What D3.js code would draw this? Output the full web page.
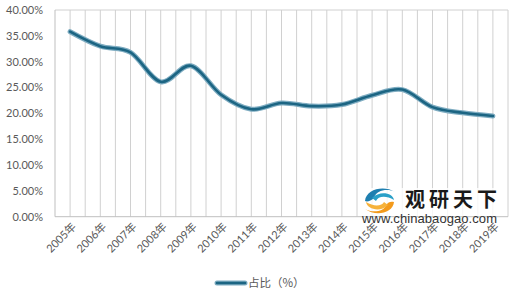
<!DOCTYPE html>
<html>
<head>
<meta charset="utf-8">
<script src="https://cdn.jsdelivr.net/npm/d3@7"></script>
<style>
  html, body { margin: 0; padding: 0; background: #fff; }
  svg { display: block; }
</style>
</head>
<body>
<div id="chart"></div>
<script>
// ── Data ──────────────────────────────────────────────────────
const years = ['2005年', '2006年', '2007年', '2008年', '2009年', '2010年', '2011年', '2012年',
               '2013年', '2014年', '2015年', '2016年', '2017年', '2018年', '2019年'];
const share = [35.8, 33.0, 31.8, 26.1, 29.2, 23.6, 20.8, 22.0,
               21.4, 21.7, 23.5, 24.6, 21.2, 20.1, 19.5];
const yTicks = [0, 5, 10, 15, 20, 25, 30, 35, 40];
const seriesName = '占比（%）';

// ── Layout ────────────────────────────────────────────────────
const W = 520, H = 299;
const M = { left: 55, right: 508, top: 10, bottom: 216.7 };
const FONT = 'Lato, "Noto Sans CJK SC", sans-serif';

const svg = d3.select('#chart').append('svg')
  .attr('width', W).attr('height', H);

const x = d3.scaleBand().domain(years).range([M.left, M.right]).padding(0);
const y = d3.scaleLinear().domain([0, 40]).range([M.bottom, M.top]);
const cx = d => x(d) + x.bandwidth() / 2;

// vertical gridlines: band edges and band centres
const gridX = [];
years.forEach((d, i) => {
  if (i > 0) gridX.push(x(d));
  gridX.push(cx(d));
});
svg.append('g').selectAll('line').data(gridX).join('line')
  .attr('x1', d => d).attr('x2', d => d)
  .attr('y1', M.top).attr('y2', M.bottom)
  .attr('stroke', '#d0d0d0').attr('stroke-width', 1);

// plot border (top + right) and axes
svg.append('path')
  .attr('d', `M${M.left},${M.top}H${M.right}V${M.bottom}`)
  .attr('fill', 'none').attr('stroke', '#d0d0d0').attr('stroke-width', 1);

svg.append('line')
  .attr('x1', M.left).attr('x2', M.left).attr('y1', M.top).attr('y2', M.bottom)
  .attr('stroke', '#bfbfbf');
svg.append('line')
  .attr('x1', M.left).attr('x2', M.right).attr('y1', M.bottom).attr('y2', M.bottom)
  .attr('stroke', '#bfbfbf');

// y tick labels
svg.append('g').selectAll('text').data(yTicks).join('text')
  .attr('x', 43).attr('y', d => y(d))
  .attr('dy', '0.35em')
  .attr('text-anchor', 'end')
  .attr('fill', '#595959')
  .attr('font-family', FONT)
  .attr('font-size', '11px')
  .text(d => d.toFixed(2) + '%');

// x tick labels (rotated)
svg.append('g').selectAll('text').data(years).join('text')
  .attr('transform', d => `translate(${cx(d) + 4},${M.bottom + 8}) rotate(-45)`)
  .attr('text-anchor', 'end')
  .attr('dy', '0.35em')
  .attr('fill', '#595959')
  .attr('font-family', FONT)
  .attr('font-size', '11px')
  .text(d => d);

// ── Watermark ─────────────────────────────────────────────────
const wm = svg.append('g');
wm.append('rect')
  .attr('x', 360).attr('y', 188).attr('width', 140).attr('height', 28)
  .attr('fill', '#fff').attr('opacity', 0.8);
// logo swirls
wm.append('path')
  .attr('d', 'M365,201 C366,189 384,185 395,192 C388,188 376,190 374,198 C371,201 367,202 365,201 Z')
  .attr('fill', '#1f7fb0');
wm.append('path')
  .attr('d', 'M372,198 C380,190 393,193 394,200 C386,195 378,196 376,201 Z')
  .attr('fill', '#2aa0c8');
wm.append('path')
  .attr('d', 'M394,202 C393,213 376,217 365,209 C372,213 384,212 386,205 C388,202 391,201 394,202 Z')
  .attr('fill', '#f39a1c');
wm.append('path')
  .attr('d', 'M388,205 C380,213 367,209 366,202 C374,207 382,206 384,202 Z')
  .attr('fill', '#f6b23b');
wm.append('text')
  .attr('x', 405).attr('y', 207)
  .attr('font-family', '"Noto Sans CJK SC", sans-serif')
  .attr('font-weight', 'bold')
  .attr('font-size', '20px')
  .attr('fill', '#1a1a1a')
  .attr('textLength', 92)
  .text('观研天下');
wm.append('text')
  .attr('x', 362).attr('y', 223)
  .attr('font-family', '"Liberation Sans", Arial, sans-serif')
  .attr('font-size', '13px')
  .attr('fill', '#333')
  .attr('textLength', 135)
  .text('www.chinabaogao.com');

// ── Line ──────────────────────────────────────────────────────
const line = d3.line()
  .x((d, i) => cx(years[i]))
  .y(d => y(d))
  .curve(d3.curveCatmullRom.alpha(0));

svg.append('path').datum(share)
  .attr('d', line)
  .attr('fill', 'none')
  .attr('stroke', '#7eacc1')
  .attr('stroke-width', 5)
  .attr('stroke-linecap', 'round');
svg.append('path').datum(share)
  .attr('d', line)
  .attr('fill', 'none')
  .attr('stroke', '#1c6583')
  .attr('stroke-width', 2.6)
  .attr('stroke-linecap', 'round');

// ── Legend ────────────────────────────────────────────────────
const lg = svg.append('g').attr('transform', 'translate(217,283)');
lg.append('line').attr('x1', 0).attr('x2', 28)
  .attr('stroke', '#7eacc1').attr('stroke-width', 5).attr('stroke-linecap', 'round');
lg.append('line').attr('x1', 0).attr('x2', 28)
  .attr('stroke', '#1c6583').attr('stroke-width', 2.6).attr('stroke-linecap', 'round');
lg.append('text')
  .attr('x', 31).attr('dy', '0.35em')
  .attr('fill', '#595959')
  .attr('font-family', '"Noto Sans CJK SC", sans-serif')
  .attr('font-size', '11.5px')
  .text(seriesName);
</script>
</body>
</html>
